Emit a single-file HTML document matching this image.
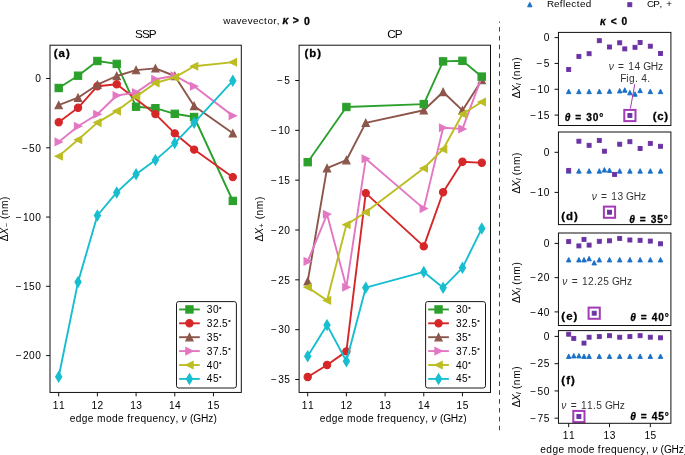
<!DOCTYPE html>
<html><head><meta charset="utf-8"><style>html,body{margin:0;padding:0;background:#fff;overflow:hidden;}svg{display:block;will-change:transform;}</style></head><body>
<svg width="685" height="455" viewBox="0 0 685 455" font-family='"Liberation Sans", sans-serif'>
<rect width="685" height="455" fill="#fff"/>
<defs>
<clipPath id="ca"><rect x="50.0" y="45.2" width="191.3" height="347.25"/></clipPath>
<clipPath id="cb"><rect x="299.1" y="45.2" width="191.39999999999998" height="347.25"/></clipPath>
</defs>
<g clip-path="url(#ca)">
<polyline points="58.7,88 78.05,75.7 97.39,61 116.74,63.9 136.08,106.7 155.42,108.2 174.77,113.8 194.11,117 232.8,200.9" fill="none" stroke="#2ca02c" stroke-width="1.9" stroke-linejoin="round" stroke-linecap="square"/>
<rect x="55.05" y="84.35" width="7.3" height="7.3" fill="#2ca02c" stroke="#2ca02c" stroke-width="1.1"/>
<rect x="74.4" y="72.05" width="7.3" height="7.3" fill="#2ca02c" stroke="#2ca02c" stroke-width="1.1"/>
<rect x="93.74" y="57.35" width="7.3" height="7.3" fill="#2ca02c" stroke="#2ca02c" stroke-width="1.1"/>
<rect x="113.09" y="60.25" width="7.3" height="7.3" fill="#2ca02c" stroke="#2ca02c" stroke-width="1.1"/>
<rect x="132.43" y="103.05" width="7.3" height="7.3" fill="#2ca02c" stroke="#2ca02c" stroke-width="1.1"/>
<rect x="151.77" y="104.55" width="7.3" height="7.3" fill="#2ca02c" stroke="#2ca02c" stroke-width="1.1"/>
<rect x="171.12" y="110.15" width="7.3" height="7.3" fill="#2ca02c" stroke="#2ca02c" stroke-width="1.1"/>
<rect x="190.46" y="113.35" width="7.3" height="7.3" fill="#2ca02c" stroke="#2ca02c" stroke-width="1.1"/>
<rect x="229.15" y="197.25" width="7.3" height="7.3" fill="#2ca02c" stroke="#2ca02c" stroke-width="1.1"/>
<polyline points="58.7,122.2 78.05,107.8 97.39,86.2 116.74,84.3 155.42,114.1 174.77,133.4 194.11,149.6 232.8,177.1" fill="none" stroke="#d62728" stroke-width="1.9" stroke-linejoin="round" stroke-linecap="square"/>
<circle cx="58.7" cy="122.2" r="3.65" fill="#d62728" stroke="#d62728" stroke-width="1.1"/>
<circle cx="78.05" cy="107.8" r="3.65" fill="#d62728" stroke="#d62728" stroke-width="1.1"/>
<circle cx="97.39" cy="86.2" r="3.65" fill="#d62728" stroke="#d62728" stroke-width="1.1"/>
<circle cx="116.74" cy="84.3" r="3.65" fill="#d62728" stroke="#d62728" stroke-width="1.1"/>
<circle cx="155.42" cy="114.1" r="3.65" fill="#d62728" stroke="#d62728" stroke-width="1.1"/>
<circle cx="174.77" cy="133.4" r="3.65" fill="#d62728" stroke="#d62728" stroke-width="1.1"/>
<circle cx="194.11" cy="149.6" r="3.65" fill="#d62728" stroke="#d62728" stroke-width="1.1"/>
<circle cx="232.8" cy="177.1" r="3.65" fill="#d62728" stroke="#d62728" stroke-width="1.1"/>
<polyline points="58.7,105.1 78.05,97.7 97.39,84.7 116.74,76 136.08,70.1 155.42,68.4 174.77,76 194.11,106 232.8,133.3" fill="none" stroke="#8c564b" stroke-width="1.9" stroke-linejoin="round" stroke-linecap="square"/>
<polygon points="58.7,101.45 55.05,108.75 62.35,108.75" fill="#8c564b" stroke="#8c564b" stroke-width="1.1" stroke-linejoin="miter"/>
<polygon points="78.05,94.05 74.4,101.35 81.7,101.35" fill="#8c564b" stroke="#8c564b" stroke-width="1.1" stroke-linejoin="miter"/>
<polygon points="97.39,81.05 93.74,88.35 101.04,88.35" fill="#8c564b" stroke="#8c564b" stroke-width="1.1" stroke-linejoin="miter"/>
<polygon points="116.74,72.35 113.09,79.65 120.39,79.65" fill="#8c564b" stroke="#8c564b" stroke-width="1.1" stroke-linejoin="miter"/>
<polygon points="136.08,66.45 132.43,73.75 139.73,73.75" fill="#8c564b" stroke="#8c564b" stroke-width="1.1" stroke-linejoin="miter"/>
<polygon points="155.42,64.75 151.77,72.05 159.07,72.05" fill="#8c564b" stroke="#8c564b" stroke-width="1.1" stroke-linejoin="miter"/>
<polygon points="174.77,72.35 171.12,79.65 178.42,79.65" fill="#8c564b" stroke="#8c564b" stroke-width="1.1" stroke-linejoin="miter"/>
<polygon points="194.11,102.35 190.46,109.65 197.76,109.65" fill="#8c564b" stroke="#8c564b" stroke-width="1.1" stroke-linejoin="miter"/>
<polygon points="232.8,129.65 229.15,136.95 236.45,136.95" fill="#8c564b" stroke="#8c564b" stroke-width="1.1" stroke-linejoin="miter"/>
<polyline points="58.7,141.9 78.05,126.3 97.39,114.3 116.74,95.5 136.08,92.6 155.42,79.3 174.77,75.7 194.11,86.3 232.8,115.8" fill="none" stroke="#e377c2" stroke-width="1.9" stroke-linejoin="round" stroke-linecap="square"/>
<polygon points="62.35,141.9 55.05,138.25 55.05,145.55" fill="#e377c2" stroke="#e377c2" stroke-width="1.1" stroke-linejoin="miter"/>
<polygon points="81.7,126.3 74.4,122.65 74.4,129.95" fill="#e377c2" stroke="#e377c2" stroke-width="1.1" stroke-linejoin="miter"/>
<polygon points="101.04,114.3 93.74,110.65 93.74,117.95" fill="#e377c2" stroke="#e377c2" stroke-width="1.1" stroke-linejoin="miter"/>
<polygon points="120.39,95.5 113.09,91.85 113.09,99.15" fill="#e377c2" stroke="#e377c2" stroke-width="1.1" stroke-linejoin="miter"/>
<polygon points="139.73,92.6 132.43,88.95 132.43,96.25" fill="#e377c2" stroke="#e377c2" stroke-width="1.1" stroke-linejoin="miter"/>
<polygon points="159.07,79.3 151.77,75.65 151.77,82.95" fill="#e377c2" stroke="#e377c2" stroke-width="1.1" stroke-linejoin="miter"/>
<polygon points="178.42,75.7 171.12,72.05 171.12,79.35" fill="#e377c2" stroke="#e377c2" stroke-width="1.1" stroke-linejoin="miter"/>
<polygon points="197.76,86.3 190.46,82.65 190.46,89.95" fill="#e377c2" stroke="#e377c2" stroke-width="1.1" stroke-linejoin="miter"/>
<polygon points="236.45,115.8 229.15,112.15 229.15,119.45" fill="#e377c2" stroke="#e377c2" stroke-width="1.1" stroke-linejoin="miter"/>
<polyline points="58.7,156.2 78.05,139.7 97.39,122.6 116.74,111.1 136.08,96.6 155.42,83 174.77,77.4 194.11,66.2 232.8,62.2" fill="none" stroke="#bcbd22" stroke-width="1.9" stroke-linejoin="round" stroke-linecap="square"/>
<polygon points="55.05,156.2 62.35,152.55 62.35,159.85" fill="#bcbd22" stroke="#bcbd22" stroke-width="1.1" stroke-linejoin="miter"/>
<polygon points="74.4,139.7 81.7,136.05 81.7,143.35" fill="#bcbd22" stroke="#bcbd22" stroke-width="1.1" stroke-linejoin="miter"/>
<polygon points="93.74,122.6 101.04,118.95 101.04,126.25" fill="#bcbd22" stroke="#bcbd22" stroke-width="1.1" stroke-linejoin="miter"/>
<polygon points="113.09,111.1 120.39,107.45 120.39,114.75" fill="#bcbd22" stroke="#bcbd22" stroke-width="1.1" stroke-linejoin="miter"/>
<polygon points="132.43,96.6 139.73,92.95 139.73,100.25" fill="#bcbd22" stroke="#bcbd22" stroke-width="1.1" stroke-linejoin="miter"/>
<polygon points="151.77,83 159.07,79.35 159.07,86.65" fill="#bcbd22" stroke="#bcbd22" stroke-width="1.1" stroke-linejoin="miter"/>
<polygon points="171.12,77.4 178.42,73.75 178.42,81.05" fill="#bcbd22" stroke="#bcbd22" stroke-width="1.1" stroke-linejoin="miter"/>
<polygon points="190.46,66.2 197.76,62.55 197.76,69.85" fill="#bcbd22" stroke="#bcbd22" stroke-width="1.1" stroke-linejoin="miter"/>
<polygon points="229.15,62.2 236.45,58.55 236.45,65.85" fill="#bcbd22" stroke="#bcbd22" stroke-width="1.1" stroke-linejoin="miter"/>
<polyline points="58.7,376.8 78.05,281.9 97.39,215.5 116.74,192.4 136.08,174.2 155.42,160.1 174.77,143.1 194.11,122.8 232.8,80.8" fill="none" stroke="#17becf" stroke-width="1.9" stroke-linejoin="round" stroke-linecap="square"/>
<polygon points="58.7,371.64 61.8,376.8 58.7,381.96 55.61,376.8" fill="#17becf" stroke="#17becf" stroke-width="1.1" stroke-linejoin="miter"/>
<polygon points="78.05,276.74 81.15,281.9 78.05,287.06 74.95,281.9" fill="#17becf" stroke="#17becf" stroke-width="1.1" stroke-linejoin="miter"/>
<polygon points="97.39,210.34 100.49,215.5 97.39,220.66 94.29,215.5" fill="#17becf" stroke="#17becf" stroke-width="1.1" stroke-linejoin="miter"/>
<polygon points="116.74,187.24 119.83,192.4 116.74,197.56 113.64,192.4" fill="#17becf" stroke="#17becf" stroke-width="1.1" stroke-linejoin="miter"/>
<polygon points="136.08,169.04 139.18,174.2 136.08,179.36 132.98,174.2" fill="#17becf" stroke="#17becf" stroke-width="1.1" stroke-linejoin="miter"/>
<polygon points="155.42,154.94 158.52,160.1 155.42,165.26 152.32,160.1" fill="#17becf" stroke="#17becf" stroke-width="1.1" stroke-linejoin="miter"/>
<polygon points="174.77,137.94 177.86,143.1 174.77,148.26 171.67,143.1" fill="#17becf" stroke="#17becf" stroke-width="1.1" stroke-linejoin="miter"/>
<polygon points="194.11,117.64 197.21,122.8 194.11,127.96 191.01,122.8" fill="#17becf" stroke="#17becf" stroke-width="1.1" stroke-linejoin="miter"/>
<polygon points="232.8,75.64 235.89,80.8 232.8,85.96 229.7,80.8" fill="#17becf" stroke="#17becf" stroke-width="1.1" stroke-linejoin="miter"/>
</g>
<rect x="50" y="45.2" width="191.3" height="347.25" fill="none" stroke="#111" stroke-width="1.0"/>
<line x1="46.1" y1="78.5" x2="50" y2="78.5" stroke="#111" stroke-width="1.0"/>
<text font-size="10.18"><tspan x="35.22" y="82.25">0</tspan></text>
<line x1="46.1" y1="147.8" x2="50" y2="147.8" stroke="#111" stroke-width="1.0"/>
<text font-size="10.18"><tspan x="21.89 29.11 35.22" y="151.55">−50</tspan></text>
<line x1="46.1" y1="217.05" x2="50" y2="217.05" stroke="#111" stroke-width="1.0"/>
<text font-size="10.18"><tspan x="15.78 23 29.11 35.22" y="220.8">−100</tspan></text>
<line x1="46.1" y1="286.3" x2="50" y2="286.3" stroke="#111" stroke-width="1.0"/>
<text font-size="10.18"><tspan x="15.78 23 29.11 35.22" y="290.05">−150</tspan></text>
<line x1="46.1" y1="355.6" x2="50" y2="355.6" stroke="#111" stroke-width="1.0"/>
<text font-size="10.18"><tspan x="15.78 23 29.11 35.22" y="359.35">−200</tspan></text>
<line x1="58.7" y1="392.45" x2="58.7" y2="396.35" stroke="#111" stroke-width="1.0"/>
<text font-size="10.18"><tspan x="52.82 58.93" y="408.6">11</tspan></text>
<line x1="97.39" y1="392.45" x2="97.39" y2="396.35" stroke="#111" stroke-width="1.0"/>
<text font-size="10.18"><tspan x="91.51 97.62" y="408.6">12</tspan></text>
<line x1="136.08" y1="392.45" x2="136.08" y2="396.35" stroke="#111" stroke-width="1.0"/>
<text font-size="10.18"><tspan x="130.19 136.3" y="408.6">13</tspan></text>
<line x1="174.77" y1="392.45" x2="174.77" y2="396.35" stroke="#111" stroke-width="1.0"/>
<text font-size="10.18"><tspan x="168.88 174.99" y="408.6">14</tspan></text>
<line x1="213.45" y1="392.45" x2="213.45" y2="396.35" stroke="#111" stroke-width="1.0"/>
<text font-size="10.18"><tspan x="207.57 213.68" y="408.6">15</tspan></text>
<text font-size="11.45"><tspan font-weight="bold" stroke="#000" stroke-width="0.28" x="53.76 58.6 65.99" y="57">(a)</tspan></text>
<text font-size="11.77"><tspan x="134.96 142 148.87" y="38.3">SSP</tspan></text>
<text font-size="10.18"><tspan x="69.73 75.73 81.82 87.82 93.72 97.09 106.11 112.1 118.1 123.99 127.21 130.59 134.38 140.38 146.47 152.47 158.46 164.43 169.91 175.4 178.46" y="422">edge mode frequency, </tspan><tspan font-style="italic" x="181.53" y="422">ν</tspan><tspan x="186.87 189.99 193.32 200.93 208.19 213.43" y="422"> (GHz)</tspan></text>
<text transform="translate(7.9,218.7) rotate(-90)" font-size="10.18"><tspan x="-22.49" y="0">Δ</tspan><tspan font-style="italic" x="-15.91" y="0">X</tspan><tspan font-size="7.12" x="-8.5" y="1.25">−</tspan><tspan x="-3.49 -0.37 3.41 9.72 18.81" y="0"> (nm)</tspan></text>
<rect x="176.5" y="301.6" width="59.9" height="86.4" rx="2.2" ry="2.2" fill="#fff" stroke="#1a1a1a" stroke-width="1"/>
<line x1="179.1" y1="309.45" x2="199.8" y2="309.45" stroke="#2ca02c" stroke-width="1.9"/>
<rect x="185.8" y="305.8" width="7.3" height="7.3" fill="#2ca02c" stroke="#2ca02c" stroke-width="1.1"/>
<text font-size="10.18"><tspan x="206.82 212.93" y="312.95">30</tspan><tspan font-weight="bold" stroke="#000" stroke-width="0.28" font-size="6.11" x="219.03" y="310.55">°</tspan></text>
<line x1="179.1" y1="323.3" x2="199.8" y2="323.3" stroke="#d62728" stroke-width="1.9"/>
<circle cx="189.45" cy="323.3" r="3.65" fill="#d62728" stroke="#d62728" stroke-width="1.1"/>
<text font-size="10.18"><tspan x="206.82 212.93 218.93 222.09" y="326.8">32.5</tspan><tspan font-weight="bold" stroke="#000" stroke-width="0.28" font-size="6.11" x="228.19" y="324.4">°</tspan></text>
<line x1="179.1" y1="337.2" x2="199.8" y2="337.2" stroke="#8c564b" stroke-width="1.9"/>
<polygon points="189.45,333.55 185.8,340.85 193.1,340.85" fill="#8c564b" stroke="#8c564b" stroke-width="1.1" stroke-linejoin="miter"/>
<text font-size="10.18"><tspan x="206.82 212.93" y="340.7">35</tspan><tspan font-weight="bold" stroke="#000" stroke-width="0.28" font-size="6.11" x="219.03" y="338.3">°</tspan></text>
<line x1="179.1" y1="351.1" x2="199.8" y2="351.1" stroke="#e377c2" stroke-width="1.9"/>
<polygon points="193.1,351.1 185.8,347.45 185.8,354.75" fill="#e377c2" stroke="#e377c2" stroke-width="1.1" stroke-linejoin="miter"/>
<text font-size="10.18"><tspan x="206.82 212.93 218.93 222.09" y="354.6">37.5</tspan><tspan font-weight="bold" stroke="#000" stroke-width="0.28" font-size="6.11" x="228.19" y="352.2">°</tspan></text>
<line x1="179.1" y1="365" x2="199.8" y2="365" stroke="#bcbd22" stroke-width="1.9"/>
<polygon points="185.8,365 193.1,361.35 193.1,368.65" fill="#bcbd22" stroke="#bcbd22" stroke-width="1.1" stroke-linejoin="miter"/>
<text font-size="10.18"><tspan x="206.82 212.93" y="368.5">40</tspan><tspan font-weight="bold" stroke="#000" stroke-width="0.28" font-size="6.11" x="219.03" y="366.1">°</tspan></text>
<line x1="179.1" y1="378.9" x2="199.8" y2="378.9" stroke="#17becf" stroke-width="1.9"/>
<polygon points="189.45,373.74 192.55,378.9 189.45,384.06 186.35,378.9" fill="#17becf" stroke="#17becf" stroke-width="1.1" stroke-linejoin="miter"/>
<text font-size="10.18"><tspan x="206.82 212.93" y="382.4">45</tspan><tspan font-weight="bold" stroke="#000" stroke-width="0.28" font-size="6.11" x="219.03" y="380">°</tspan></text>
<g clip-path="url(#cb)">
<polyline points="307.7,377 327.05,365 346.39,351.4 365.74,193.1 423.77,246.4 443.11,192.3 462.45,161.7 481.8,162.8" fill="none" stroke="#d62728" stroke-width="1.9" stroke-linejoin="round" stroke-linecap="square"/>
<circle cx="307.7" cy="377" r="3.65" fill="#d62728" stroke="#d62728" stroke-width="1.1"/>
<circle cx="327.05" cy="365" r="3.65" fill="#d62728" stroke="#d62728" stroke-width="1.1"/>
<circle cx="346.39" cy="351.4" r="3.65" fill="#d62728" stroke="#d62728" stroke-width="1.1"/>
<circle cx="365.74" cy="193.1" r="3.65" fill="#d62728" stroke="#d62728" stroke-width="1.1"/>
<circle cx="423.77" cy="246.4" r="3.65" fill="#d62728" stroke="#d62728" stroke-width="1.1"/>
<circle cx="443.11" cy="192.3" r="3.65" fill="#d62728" stroke="#d62728" stroke-width="1.1"/>
<circle cx="462.45" cy="161.7" r="3.65" fill="#d62728" stroke="#d62728" stroke-width="1.1"/>
<circle cx="481.8" cy="162.8" r="3.65" fill="#d62728" stroke="#d62728" stroke-width="1.1"/>
<polyline points="307.7,281.4 327.05,168.2 346.39,160.2 365.74,122.9 423.77,110.3 443.11,92 462.45,110.4 481.8,80" fill="none" stroke="#8c564b" stroke-width="1.9" stroke-linejoin="round" stroke-linecap="square"/>
<polygon points="307.7,277.75 304.05,285.05 311.35,285.05" fill="#8c564b" stroke="#8c564b" stroke-width="1.1" stroke-linejoin="miter"/>
<polygon points="327.05,164.55 323.4,171.85 330.7,171.85" fill="#8c564b" stroke="#8c564b" stroke-width="1.1" stroke-linejoin="miter"/>
<polygon points="346.39,156.55 342.74,163.85 350.04,163.85" fill="#8c564b" stroke="#8c564b" stroke-width="1.1" stroke-linejoin="miter"/>
<polygon points="365.74,119.25 362.09,126.55 369.39,126.55" fill="#8c564b" stroke="#8c564b" stroke-width="1.1" stroke-linejoin="miter"/>
<polygon points="423.77,106.65 420.12,113.95 427.42,113.95" fill="#8c564b" stroke="#8c564b" stroke-width="1.1" stroke-linejoin="miter"/>
<polygon points="443.11,88.35 439.46,95.65 446.76,95.65" fill="#8c564b" stroke="#8c564b" stroke-width="1.1" stroke-linejoin="miter"/>
<polygon points="462.45,106.75 458.8,114.05 466.1,114.05" fill="#8c564b" stroke="#8c564b" stroke-width="1.1" stroke-linejoin="miter"/>
<polygon points="481.8,76.35 478.15,83.65 485.45,83.65" fill="#8c564b" stroke="#8c564b" stroke-width="1.1" stroke-linejoin="miter"/>
<polyline points="307.7,261.4 327.05,214.3 346.39,287.2 365.74,158.8 423.77,208.6 443.11,127.8 462.45,128.9 481.8,77" fill="none" stroke="#e377c2" stroke-width="1.9" stroke-linejoin="round" stroke-linecap="square"/>
<polygon points="311.35,261.4 304.05,257.75 304.05,265.05" fill="#e377c2" stroke="#e377c2" stroke-width="1.1" stroke-linejoin="miter"/>
<polygon points="330.7,214.3 323.4,210.65 323.4,217.95" fill="#e377c2" stroke="#e377c2" stroke-width="1.1" stroke-linejoin="miter"/>
<polygon points="350.04,287.2 342.74,283.55 342.74,290.85" fill="#e377c2" stroke="#e377c2" stroke-width="1.1" stroke-linejoin="miter"/>
<polygon points="369.39,158.8 362.09,155.15 362.09,162.45" fill="#e377c2" stroke="#e377c2" stroke-width="1.1" stroke-linejoin="miter"/>
<polygon points="427.42,208.6 420.12,204.95 420.12,212.25" fill="#e377c2" stroke="#e377c2" stroke-width="1.1" stroke-linejoin="miter"/>
<polygon points="446.76,127.8 439.46,124.15 439.46,131.45" fill="#e377c2" stroke="#e377c2" stroke-width="1.1" stroke-linejoin="miter"/>
<polygon points="466.1,128.9 458.8,125.25 458.8,132.55" fill="#e377c2" stroke="#e377c2" stroke-width="1.1" stroke-linejoin="miter"/>
<polygon points="485.45,77 478.15,73.35 478.15,80.65" fill="#e377c2" stroke="#e377c2" stroke-width="1.1" stroke-linejoin="miter"/>
<polyline points="307.7,287.2 327.05,300.4 346.39,224.8 365.74,212.2 423.77,168.2 443.11,149.3 462.45,114 481.8,102" fill="none" stroke="#bcbd22" stroke-width="1.9" stroke-linejoin="round" stroke-linecap="square"/>
<polygon points="304.05,287.2 311.35,283.55 311.35,290.85" fill="#bcbd22" stroke="#bcbd22" stroke-width="1.1" stroke-linejoin="miter"/>
<polygon points="323.4,300.4 330.7,296.75 330.7,304.05" fill="#bcbd22" stroke="#bcbd22" stroke-width="1.1" stroke-linejoin="miter"/>
<polygon points="342.74,224.8 350.04,221.15 350.04,228.45" fill="#bcbd22" stroke="#bcbd22" stroke-width="1.1" stroke-linejoin="miter"/>
<polygon points="362.09,212.2 369.39,208.55 369.39,215.85" fill="#bcbd22" stroke="#bcbd22" stroke-width="1.1" stroke-linejoin="miter"/>
<polygon points="420.12,168.2 427.42,164.55 427.42,171.85" fill="#bcbd22" stroke="#bcbd22" stroke-width="1.1" stroke-linejoin="miter"/>
<polygon points="439.46,149.3 446.76,145.65 446.76,152.95" fill="#bcbd22" stroke="#bcbd22" stroke-width="1.1" stroke-linejoin="miter"/>
<polygon points="458.8,114 466.1,110.35 466.1,117.65" fill="#bcbd22" stroke="#bcbd22" stroke-width="1.1" stroke-linejoin="miter"/>
<polygon points="478.15,102 485.45,98.35 485.45,105.65" fill="#bcbd22" stroke="#bcbd22" stroke-width="1.1" stroke-linejoin="miter"/>
<polyline points="307.7,356.2 327.05,325.1 346.39,361.3 365.74,287.7 423.77,271.9 443.11,287.7 462.45,267.8 481.8,228.5" fill="none" stroke="#17becf" stroke-width="1.9" stroke-linejoin="round" stroke-linecap="square"/>
<polygon points="307.7,351.04 310.8,356.2 307.7,361.36 304.61,356.2" fill="#17becf" stroke="#17becf" stroke-width="1.1" stroke-linejoin="miter"/>
<polygon points="327.05,319.94 330.15,325.1 327.05,330.26 323.95,325.1" fill="#17becf" stroke="#17becf" stroke-width="1.1" stroke-linejoin="miter"/>
<polygon points="346.39,356.14 349.49,361.3 346.39,366.46 343.29,361.3" fill="#17becf" stroke="#17becf" stroke-width="1.1" stroke-linejoin="miter"/>
<polygon points="365.74,282.54 368.83,287.7 365.74,292.86 362.64,287.7" fill="#17becf" stroke="#17becf" stroke-width="1.1" stroke-linejoin="miter"/>
<polygon points="423.77,266.74 426.86,271.9 423.77,277.06 420.67,271.9" fill="#17becf" stroke="#17becf" stroke-width="1.1" stroke-linejoin="miter"/>
<polygon points="443.11,282.54 446.21,287.7 443.11,292.86 440.01,287.7" fill="#17becf" stroke="#17becf" stroke-width="1.1" stroke-linejoin="miter"/>
<polygon points="462.45,262.64 465.55,267.8 462.45,272.96 459.36,267.8" fill="#17becf" stroke="#17becf" stroke-width="1.1" stroke-linejoin="miter"/>
<polygon points="481.8,223.34 484.89,228.5 481.8,233.66 478.7,228.5" fill="#17becf" stroke="#17becf" stroke-width="1.1" stroke-linejoin="miter"/>
<polyline points="307.7,162.2 346.39,107 423.77,104.1 443.11,61.4 462.45,60.8 481.8,76.6" fill="none" stroke="#2ca02c" stroke-width="1.9" stroke-linejoin="round" stroke-linecap="square"/>
<rect x="304.05" y="158.55" width="7.3" height="7.3" fill="#2ca02c" stroke="#2ca02c" stroke-width="1.1"/>
<rect x="342.74" y="103.35" width="7.3" height="7.3" fill="#2ca02c" stroke="#2ca02c" stroke-width="1.1"/>
<rect x="420.12" y="100.45" width="7.3" height="7.3" fill="#2ca02c" stroke="#2ca02c" stroke-width="1.1"/>
<rect x="439.46" y="57.75" width="7.3" height="7.3" fill="#2ca02c" stroke="#2ca02c" stroke-width="1.1"/>
<rect x="458.8" y="57.15" width="7.3" height="7.3" fill="#2ca02c" stroke="#2ca02c" stroke-width="1.1"/>
<rect x="478.15" y="72.95" width="7.3" height="7.3" fill="#2ca02c" stroke="#2ca02c" stroke-width="1.1"/>
</g>
<rect x="299.1" y="45.2" width="191.4" height="347.25" fill="none" stroke="#111" stroke-width="1.0"/>
<line x1="295.2" y1="80.5" x2="299.1" y2="80.5" stroke="#111" stroke-width="1.0"/>
<text font-size="10.18"><tspan x="277.1 284.32" y="84.25">−5</tspan></text>
<line x1="295.2" y1="130.34" x2="299.1" y2="130.34" stroke="#111" stroke-width="1.0"/>
<text font-size="10.18"><tspan x="270.99 278.21 284.32" y="134.09">−10</tspan></text>
<line x1="295.2" y1="180.17" x2="299.1" y2="180.17" stroke="#111" stroke-width="1.0"/>
<text font-size="10.18"><tspan x="270.99 278.21 284.32" y="183.92">−15</tspan></text>
<line x1="295.2" y1="230" x2="299.1" y2="230" stroke="#111" stroke-width="1.0"/>
<text font-size="10.18"><tspan x="270.99 278.21 284.32" y="233.75">−20</tspan></text>
<line x1="295.2" y1="279.84" x2="299.1" y2="279.84" stroke="#111" stroke-width="1.0"/>
<text font-size="10.18"><tspan x="270.99 278.21 284.32" y="283.59">−25</tspan></text>
<line x1="295.2" y1="329.68" x2="299.1" y2="329.68" stroke="#111" stroke-width="1.0"/>
<text font-size="10.18"><tspan x="270.99 278.21 284.32" y="333.43">−30</tspan></text>
<line x1="295.2" y1="379.51" x2="299.1" y2="379.51" stroke="#111" stroke-width="1.0"/>
<text font-size="10.18"><tspan x="270.99 278.21 284.32" y="383.26">−35</tspan></text>
<line x1="307.7" y1="392.45" x2="307.7" y2="396.35" stroke="#111" stroke-width="1.0"/>
<text font-size="10.18"><tspan x="301.82 307.93" y="408.6">11</tspan></text>
<line x1="346.39" y1="392.45" x2="346.39" y2="396.35" stroke="#111" stroke-width="1.0"/>
<text font-size="10.18"><tspan x="340.51 346.62" y="408.6">12</tspan></text>
<line x1="385.08" y1="392.45" x2="385.08" y2="396.35" stroke="#111" stroke-width="1.0"/>
<text font-size="10.18"><tspan x="379.19 385.3" y="408.6">13</tspan></text>
<line x1="423.77" y1="392.45" x2="423.77" y2="396.35" stroke="#111" stroke-width="1.0"/>
<text font-size="10.18"><tspan x="417.88 423.99" y="408.6">14</tspan></text>
<line x1="462.45" y1="392.45" x2="462.45" y2="396.35" stroke="#111" stroke-width="1.0"/>
<text font-size="10.18"><tspan x="456.57 462.68" y="408.6">15</tspan></text>
<text font-size="11.45"><tspan font-weight="bold" stroke="#000" stroke-width="0.28" x="304.56 309.3 317.23" y="57">(b)</tspan></text>
<text font-size="11.77"><tspan x="387.15 394.7" y="38.3">CP</tspan></text>
<text font-size="10.18"><tspan x="319.63 325.63 331.72 337.72 343.62 346.99 356.01 362 368 373.89 377.11 380.49 384.28 390.28 396.37 402.37 408.36 414.33 419.81 425.3 428.36" y="422">edge mode frequency, </tspan><tspan font-style="italic" x="431.43" y="422">ν</tspan><tspan x="436.77 439.89 443.22 450.83 458.09 463.33" y="422"> (GHz)</tspan></text>
<text transform="translate(263.2,218.9) rotate(-90)" font-size="10.18"><tspan x="-22.49" y="0">Δ</tspan><tspan font-style="italic" x="-15.91" y="0">X</tspan><tspan font-size="7.12" x="-8.5" y="1.25">+</tspan><tspan x="-3.49 -0.37 3.41 9.72 18.81" y="0"> (nm)</tspan></text>
<rect x="425.6" y="301.6" width="59.9" height="86.4" rx="2.2" ry="2.2" fill="#fff" stroke="#1a1a1a" stroke-width="1"/>
<line x1="428.2" y1="309.45" x2="448.9" y2="309.45" stroke="#2ca02c" stroke-width="1.9"/>
<rect x="434.9" y="305.8" width="7.3" height="7.3" fill="#2ca02c" stroke="#2ca02c" stroke-width="1.1"/>
<text font-size="10.18"><tspan x="455.92 462.03" y="312.95">30</tspan><tspan font-weight="bold" stroke="#000" stroke-width="0.28" font-size="6.11" x="468.13" y="310.55">°</tspan></text>
<line x1="428.2" y1="323.3" x2="448.9" y2="323.3" stroke="#d62728" stroke-width="1.9"/>
<circle cx="438.55" cy="323.3" r="3.65" fill="#d62728" stroke="#d62728" stroke-width="1.1"/>
<text font-size="10.18"><tspan x="455.92 462.03 468.03 471.19" y="326.8">32.5</tspan><tspan font-weight="bold" stroke="#000" stroke-width="0.28" font-size="6.11" x="477.29" y="324.4">°</tspan></text>
<line x1="428.2" y1="337.2" x2="448.9" y2="337.2" stroke="#8c564b" stroke-width="1.9"/>
<polygon points="438.55,333.55 434.9,340.85 442.2,340.85" fill="#8c564b" stroke="#8c564b" stroke-width="1.1" stroke-linejoin="miter"/>
<text font-size="10.18"><tspan x="455.92 462.03" y="340.7">35</tspan><tspan font-weight="bold" stroke="#000" stroke-width="0.28" font-size="6.11" x="468.13" y="338.3">°</tspan></text>
<line x1="428.2" y1="351.1" x2="448.9" y2="351.1" stroke="#e377c2" stroke-width="1.9"/>
<polygon points="442.2,351.1 434.9,347.45 434.9,354.75" fill="#e377c2" stroke="#e377c2" stroke-width="1.1" stroke-linejoin="miter"/>
<text font-size="10.18"><tspan x="455.92 462.03 468.03 471.19" y="354.6">37.5</tspan><tspan font-weight="bold" stroke="#000" stroke-width="0.28" font-size="6.11" x="477.29" y="352.2">°</tspan></text>
<line x1="428.2" y1="365" x2="448.9" y2="365" stroke="#bcbd22" stroke-width="1.9"/>
<polygon points="434.9,365 442.2,361.35 442.2,368.65" fill="#bcbd22" stroke="#bcbd22" stroke-width="1.1" stroke-linejoin="miter"/>
<text font-size="10.18"><tspan x="455.92 462.03" y="368.5">40</tspan><tspan font-weight="bold" stroke="#000" stroke-width="0.28" font-size="6.11" x="468.13" y="366.1">°</tspan></text>
<line x1="428.2" y1="378.9" x2="448.9" y2="378.9" stroke="#17becf" stroke-width="1.9"/>
<polygon points="438.55,373.74 441.65,378.9 438.55,384.06 435.45,378.9" fill="#17becf" stroke="#17becf" stroke-width="1.1" stroke-linejoin="miter"/>
<text font-size="10.18"><tspan x="455.92 462.03" y="382.4">45</tspan><tspan font-weight="bold" stroke="#000" stroke-width="0.28" font-size="6.11" x="468.13" y="380">°</tspan></text>
<text font-size="9.8"><tspan x="223.24 230.67 236.52 241.83 247.68 252.99 258.66 264.1 267.38 273.2 276.85" y="24.4">wavevector,</tspan></text>
<text font-size="10.49"><tspan font-weight="bold" stroke="#000" stroke-width="0.28" font-style="italic" x="282.48" y="24.4">κ</tspan></text>
<text font-size="10.49"><tspan font-weight="bold" stroke="#000" stroke-width="0.28" x="292.64" y="24.4">&gt;</tspan></text>
<text font-size="10.49"><tspan font-weight="bold" stroke="#000" stroke-width="0.28" x="304.08" y="24.5">0</tspan></text>
<text font-size="10.18"><tspan font-weight="bold" stroke="#000" stroke-width="0.28" font-style="italic" x="600.02" y="24.5">κ</tspan><tspan font-weight="bold" stroke="#000" stroke-width="0.28" x="606.56 610.7 617.95 621.54" y="24.5"> &lt; 0</tspan></text>
<line x1="499.5" y1="430.3" x2="499.5" y2="21.6" stroke="#444" stroke-width="1" stroke-dasharray="4.6 4.26"/>
<polygon points="529.8,2.35 527.55,6.85 532.05,6.85" fill="#1a6fc6" stroke="#1a6fc6" stroke-width="0.9" stroke-linejoin="miter"/>
<text font-size="9.86"><tspan x="547.07 553.98 559.85 563.05 565.56 571.26 576.73 580.04 585.85" y="7.4">Reflected</tspan></text>
<rect x="627.8" y="2.7" width="4" height="4" fill="#6b32a3" stroke="#6b32a3" stroke-width="0.9"/>
<text font-size="9.86"><tspan x="646.89 653.21 659.41 662.37 666.23" y="7.4">CP, +</tspan></text>
<polygon points="568.7,89.15 566.45,93.65 570.95,93.65" fill="#1a6fc6" stroke="#1a6fc6" stroke-width="0.9" stroke-linejoin="miter"/>
<polygon points="578.9,89.15 576.65,93.65 581.15,93.65" fill="#1a6fc6" stroke="#1a6fc6" stroke-width="0.9" stroke-linejoin="miter"/>
<polygon points="589.1,89.15 586.85,93.65 591.35,93.65" fill="#1a6fc6" stroke="#1a6fc6" stroke-width="0.9" stroke-linejoin="miter"/>
<polygon points="599.3,89.15 597.05,93.65 601.55,93.65" fill="#1a6fc6" stroke="#1a6fc6" stroke-width="0.9" stroke-linejoin="miter"/>
<polygon points="609.5,88.85 607.25,93.35 611.75,93.35" fill="#1a6fc6" stroke="#1a6fc6" stroke-width="0.9" stroke-linejoin="miter"/>
<polygon points="619.7,88.45 617.45,92.95 621.95,92.95" fill="#1a6fc6" stroke="#1a6fc6" stroke-width="0.9" stroke-linejoin="miter"/>
<polygon points="624.8,87.75 622.55,92.25 627.05,92.25" fill="#1a6fc6" stroke="#1a6fc6" stroke-width="0.9" stroke-linejoin="miter"/>
<polygon points="629.9,90.35 627.65,94.85 632.15,94.85" fill="#1a6fc6" stroke="#1a6fc6" stroke-width="0.9" stroke-linejoin="miter"/>
<polygon points="635,91.75 632.75,96.25 637.25,96.25" fill="#1a6fc6" stroke="#1a6fc6" stroke-width="0.9" stroke-linejoin="miter"/>
<polygon points="640.1,88.15 637.85,92.65 642.35,92.65" fill="#1a6fc6" stroke="#1a6fc6" stroke-width="0.9" stroke-linejoin="miter"/>
<polygon points="650.3,89.15 648.05,93.65 652.55,93.65" fill="#1a6fc6" stroke="#1a6fc6" stroke-width="0.9" stroke-linejoin="miter"/>
<polygon points="660.5,89.15 658.25,93.65 662.75,93.65" fill="#1a6fc6" stroke="#1a6fc6" stroke-width="0.9" stroke-linejoin="miter"/>
<rect x="566.7" y="67.5" width="4" height="4" fill="#6b32a3" stroke="#6b32a3" stroke-width="0.9"/>
<rect x="576.9" y="54.4" width="4" height="4" fill="#6b32a3" stroke="#6b32a3" stroke-width="0.9"/>
<rect x="587.1" y="51.7" width="4" height="4" fill="#6b32a3" stroke="#6b32a3" stroke-width="0.9"/>
<rect x="597.3" y="38.7" width="4" height="4" fill="#6b32a3" stroke="#6b32a3" stroke-width="0.9"/>
<rect x="607.5" y="45" width="4" height="4" fill="#6b32a3" stroke="#6b32a3" stroke-width="0.9"/>
<rect x="617.7" y="40.8" width="4" height="4" fill="#6b32a3" stroke="#6b32a3" stroke-width="0.9"/>
<rect x="622.8" y="46.9" width="4" height="4" fill="#6b32a3" stroke="#6b32a3" stroke-width="0.9"/>
<rect x="633" y="45.3" width="4" height="4" fill="#6b32a3" stroke="#6b32a3" stroke-width="0.9"/>
<rect x="638.1" y="40.5" width="4" height="4" fill="#6b32a3" stroke="#6b32a3" stroke-width="0.9"/>
<rect x="648.3" y="44.2" width="4" height="4" fill="#6b32a3" stroke="#6b32a3" stroke-width="0.9"/>
<rect x="658.5" y="51.5" width="4" height="4" fill="#6b32a3" stroke="#6b32a3" stroke-width="0.9"/>
<rect x="627.9" y="113.5" width="4" height="4" fill="#6b32a3" stroke="#6b32a3" stroke-width="0.9"/>
<rect x="624.3" y="109.9" width="11.2" height="11.2" fill="none" stroke="#a23bb5" stroke-width="2"/>
<rect x="558.45" y="32.4" width="112.45" height="93.1" fill="none" stroke="#111" stroke-width="1.0"/>
<line x1="554.55" y1="37.6" x2="558.45" y2="37.6" stroke="#111" stroke-width="1.0"/>
<text font-size="10.18"><tspan x="543.67" y="41.35">0</tspan></text>
<line x1="554.55" y1="63.43" x2="558.45" y2="63.43" stroke="#111" stroke-width="1.0"/>
<text font-size="10.18"><tspan x="536.45 543.67" y="67.18">−5</tspan></text>
<line x1="554.55" y1="89.27" x2="558.45" y2="89.27" stroke="#111" stroke-width="1.0"/>
<text font-size="10.18"><tspan x="530.34 537.56 543.67" y="93.02">−10</tspan></text>
<line x1="554.55" y1="115.1" x2="558.45" y2="115.1" stroke="#111" stroke-width="1.0"/>
<text font-size="10.18"><tspan x="530.34 537.56 543.67" y="118.85">−15</tspan></text>
<polygon points="568.7,168.65 566.45,173.15 570.95,173.15" fill="#1a6fc6" stroke="#1a6fc6" stroke-width="0.9" stroke-linejoin="miter"/>
<polygon points="578.9,168.65 576.65,173.15 581.15,173.15" fill="#1a6fc6" stroke="#1a6fc6" stroke-width="0.9" stroke-linejoin="miter"/>
<polygon points="589.1,168.65 586.85,173.15 591.35,173.15" fill="#1a6fc6" stroke="#1a6fc6" stroke-width="0.9" stroke-linejoin="miter"/>
<polygon points="599.3,168.65 597.05,173.15 601.55,173.15" fill="#1a6fc6" stroke="#1a6fc6" stroke-width="0.9" stroke-linejoin="miter"/>
<polygon points="604.4,167.55 602.15,172.05 606.65,172.05" fill="#1a6fc6" stroke="#1a6fc6" stroke-width="0.9" stroke-linejoin="miter"/>
<polygon points="609.5,167.95 607.25,172.45 611.75,172.45" fill="#1a6fc6" stroke="#1a6fc6" stroke-width="0.9" stroke-linejoin="miter"/>
<polygon points="619.7,168.65 617.45,173.15 621.95,173.15" fill="#1a6fc6" stroke="#1a6fc6" stroke-width="0.9" stroke-linejoin="miter"/>
<polygon points="629.9,168.65 627.65,173.15 632.15,173.15" fill="#1a6fc6" stroke="#1a6fc6" stroke-width="0.9" stroke-linejoin="miter"/>
<polygon points="640.1,168.65 637.85,173.15 642.35,173.15" fill="#1a6fc6" stroke="#1a6fc6" stroke-width="0.9" stroke-linejoin="miter"/>
<polygon points="650.3,168.65 648.05,173.15 652.55,173.15" fill="#1a6fc6" stroke="#1a6fc6" stroke-width="0.9" stroke-linejoin="miter"/>
<polygon points="660.5,168.65 658.25,173.15 662.75,173.15" fill="#1a6fc6" stroke="#1a6fc6" stroke-width="0.9" stroke-linejoin="miter"/>
<rect x="566.7" y="168.4" width="4" height="4" fill="#6b32a3" stroke="#6b32a3" stroke-width="0.9"/>
<rect x="576.9" y="139.2" width="4" height="4" fill="#6b32a3" stroke="#6b32a3" stroke-width="0.9"/>
<rect x="587.1" y="143.3" width="4" height="4" fill="#6b32a3" stroke="#6b32a3" stroke-width="0.9"/>
<rect x="597.3" y="138.4" width="4" height="4" fill="#6b32a3" stroke="#6b32a3" stroke-width="0.9"/>
<rect x="602.4" y="149.2" width="4" height="4" fill="#6b32a3" stroke="#6b32a3" stroke-width="0.9"/>
<rect x="612.6" y="172.4" width="4" height="4" fill="#6b32a3" stroke="#6b32a3" stroke-width="0.9"/>
<rect x="617.7" y="142.2" width="4" height="4" fill="#6b32a3" stroke="#6b32a3" stroke-width="0.9"/>
<rect x="627.9" y="139.7" width="4" height="4" fill="#6b32a3" stroke="#6b32a3" stroke-width="0.9"/>
<rect x="638.1" y="146.5" width="4" height="4" fill="#6b32a3" stroke="#6b32a3" stroke-width="0.9"/>
<rect x="648.3" y="141.4" width="4" height="4" fill="#6b32a3" stroke="#6b32a3" stroke-width="0.9"/>
<rect x="658.5" y="144.3" width="4" height="4" fill="#6b32a3" stroke="#6b32a3" stroke-width="0.9"/>
<rect x="607.5" y="210.2" width="4" height="4" fill="#6b32a3" stroke="#6b32a3" stroke-width="0.9"/>
<rect x="603.9" y="206.6" width="11.2" height="11.2" fill="none" stroke="#a23bb5" stroke-width="2"/>
<rect x="558.45" y="132" width="112.45" height="92.6" fill="none" stroke="#111" stroke-width="1.0"/>
<line x1="554.55" y1="152.3" x2="558.45" y2="152.3" stroke="#111" stroke-width="1.0"/>
<text font-size="10.18"><tspan x="543.67" y="156.05">0</tspan></text>
<line x1="554.55" y1="192.4" x2="558.45" y2="192.4" stroke="#111" stroke-width="1.0"/>
<text font-size="10.18"><tspan x="530.34 537.56 543.67" y="196.15">−10</tspan></text>
<polygon points="568.7,257.45 566.45,261.95 570.95,261.95" fill="#1a6fc6" stroke="#1a6fc6" stroke-width="0.9" stroke-linejoin="miter"/>
<polygon points="578.9,257.45 576.65,261.95 581.15,261.95" fill="#1a6fc6" stroke="#1a6fc6" stroke-width="0.9" stroke-linejoin="miter"/>
<polygon points="584,257.45 581.75,261.95 586.25,261.95" fill="#1a6fc6" stroke="#1a6fc6" stroke-width="0.9" stroke-linejoin="miter"/>
<polygon points="589.1,256.35 586.85,260.85 591.35,260.85" fill="#1a6fc6" stroke="#1a6fc6" stroke-width="0.9" stroke-linejoin="miter"/>
<polygon points="594.2,260.45 591.95,264.95 596.45,264.95" fill="#1a6fc6" stroke="#1a6fc6" stroke-width="0.9" stroke-linejoin="miter"/>
<polygon points="599.3,257.45 597.05,261.95 601.55,261.95" fill="#1a6fc6" stroke="#1a6fc6" stroke-width="0.9" stroke-linejoin="miter"/>
<polygon points="609.5,257.45 607.25,261.95 611.75,261.95" fill="#1a6fc6" stroke="#1a6fc6" stroke-width="0.9" stroke-linejoin="miter"/>
<polygon points="619.7,257.45 617.45,261.95 621.95,261.95" fill="#1a6fc6" stroke="#1a6fc6" stroke-width="0.9" stroke-linejoin="miter"/>
<polygon points="629.9,257.45 627.65,261.95 632.15,261.95" fill="#1a6fc6" stroke="#1a6fc6" stroke-width="0.9" stroke-linejoin="miter"/>
<polygon points="640.1,257.45 637.85,261.95 642.35,261.95" fill="#1a6fc6" stroke="#1a6fc6" stroke-width="0.9" stroke-linejoin="miter"/>
<polygon points="650.3,257.45 648.05,261.95 652.55,261.95" fill="#1a6fc6" stroke="#1a6fc6" stroke-width="0.9" stroke-linejoin="miter"/>
<polygon points="660.5,257.45 658.25,261.95 662.75,261.95" fill="#1a6fc6" stroke="#1a6fc6" stroke-width="0.9" stroke-linejoin="miter"/>
<rect x="566.7" y="239.6" width="4" height="4" fill="#6b32a3" stroke="#6b32a3" stroke-width="0.9"/>
<rect x="576.9" y="243.9" width="4" height="4" fill="#6b32a3" stroke="#6b32a3" stroke-width="0.9"/>
<rect x="582" y="237.4" width="4" height="4" fill="#6b32a3" stroke="#6b32a3" stroke-width="0.9"/>
<rect x="587.1" y="243.1" width="4" height="4" fill="#6b32a3" stroke="#6b32a3" stroke-width="0.9"/>
<rect x="597.3" y="239.3" width="4" height="4" fill="#6b32a3" stroke="#6b32a3" stroke-width="0.9"/>
<rect x="607.5" y="238.8" width="4" height="4" fill="#6b32a3" stroke="#6b32a3" stroke-width="0.9"/>
<rect x="617.7" y="236.4" width="4" height="4" fill="#6b32a3" stroke="#6b32a3" stroke-width="0.9"/>
<rect x="627.9" y="238" width="4" height="4" fill="#6b32a3" stroke="#6b32a3" stroke-width="0.9"/>
<rect x="638.1" y="238.3" width="4" height="4" fill="#6b32a3" stroke="#6b32a3" stroke-width="0.9"/>
<rect x="648.3" y="239.1" width="4" height="4" fill="#6b32a3" stroke="#6b32a3" stroke-width="0.9"/>
<rect x="658.5" y="241.8" width="4" height="4" fill="#6b32a3" stroke="#6b32a3" stroke-width="0.9"/>
<rect x="592.2" y="311.2" width="4" height="4" fill="#6b32a3" stroke="#6b32a3" stroke-width="0.9"/>
<rect x="588.6" y="307.6" width="11.2" height="11.2" fill="none" stroke="#a23bb5" stroke-width="2"/>
<rect x="558.45" y="233" width="112.45" height="92.5" fill="none" stroke="#111" stroke-width="1.0"/>
<line x1="554.55" y1="243.4" x2="558.45" y2="243.4" stroke="#111" stroke-width="1.0"/>
<text font-size="10.18"><tspan x="543.67" y="247.15">0</tspan></text>
<line x1="554.55" y1="277.65" x2="558.45" y2="277.65" stroke="#111" stroke-width="1.0"/>
<text font-size="10.18"><tspan x="530.34 537.56 543.67" y="281.4">−20</tspan></text>
<line x1="554.55" y1="311.9" x2="558.45" y2="311.9" stroke="#111" stroke-width="1.0"/>
<text font-size="10.18"><tspan x="530.34 537.56 543.67" y="315.65">−40</tspan></text>
<polygon points="568.7,353.95 566.45,358.45 570.95,358.45" fill="#1a6fc6" stroke="#1a6fc6" stroke-width="0.9" stroke-linejoin="miter"/>
<polygon points="573.8,353.45 571.55,357.95 576.05,357.95" fill="#1a6fc6" stroke="#1a6fc6" stroke-width="0.9" stroke-linejoin="miter"/>
<polygon points="578.9,353.45 576.65,357.95 581.15,357.95" fill="#1a6fc6" stroke="#1a6fc6" stroke-width="0.9" stroke-linejoin="miter"/>
<polygon points="584,353.95 581.75,358.45 586.25,358.45" fill="#1a6fc6" stroke="#1a6fc6" stroke-width="0.9" stroke-linejoin="miter"/>
<polygon points="589.1,353.95 586.85,358.45 591.35,358.45" fill="#1a6fc6" stroke="#1a6fc6" stroke-width="0.9" stroke-linejoin="miter"/>
<polygon points="599.3,353.95 597.05,358.45 601.55,358.45" fill="#1a6fc6" stroke="#1a6fc6" stroke-width="0.9" stroke-linejoin="miter"/>
<polygon points="609.5,353.95 607.25,358.45 611.75,358.45" fill="#1a6fc6" stroke="#1a6fc6" stroke-width="0.9" stroke-linejoin="miter"/>
<polygon points="619.7,353.95 617.45,358.45 621.95,358.45" fill="#1a6fc6" stroke="#1a6fc6" stroke-width="0.9" stroke-linejoin="miter"/>
<polygon points="629.9,353.95 627.65,358.45 632.15,358.45" fill="#1a6fc6" stroke="#1a6fc6" stroke-width="0.9" stroke-linejoin="miter"/>
<polygon points="640.1,353.95 637.85,358.45 642.35,358.45" fill="#1a6fc6" stroke="#1a6fc6" stroke-width="0.9" stroke-linejoin="miter"/>
<polygon points="650.3,353.95 648.05,358.45 652.55,358.45" fill="#1a6fc6" stroke="#1a6fc6" stroke-width="0.9" stroke-linejoin="miter"/>
<polygon points="660.5,353.95 658.25,358.45 662.75,358.45" fill="#1a6fc6" stroke="#1a6fc6" stroke-width="0.9" stroke-linejoin="miter"/>
<rect x="566.7" y="332.2" width="4" height="4" fill="#6b32a3" stroke="#6b32a3" stroke-width="0.9"/>
<rect x="571.8" y="336.4" width="4" height="4" fill="#6b32a3" stroke="#6b32a3" stroke-width="0.9"/>
<rect x="582" y="341.1" width="4" height="4" fill="#6b32a3" stroke="#6b32a3" stroke-width="0.9"/>
<rect x="587.1" y="335.2" width="4" height="4" fill="#6b32a3" stroke="#6b32a3" stroke-width="0.9"/>
<rect x="597.3" y="334.6" width="4" height="4" fill="#6b32a3" stroke="#6b32a3" stroke-width="0.9"/>
<rect x="607.5" y="333.7" width="4" height="4" fill="#6b32a3" stroke="#6b32a3" stroke-width="0.9"/>
<rect x="617.7" y="335.2" width="4" height="4" fill="#6b32a3" stroke="#6b32a3" stroke-width="0.9"/>
<rect x="627.9" y="334.6" width="4" height="4" fill="#6b32a3" stroke="#6b32a3" stroke-width="0.9"/>
<rect x="638.1" y="333.7" width="4" height="4" fill="#6b32a3" stroke="#6b32a3" stroke-width="0.9"/>
<rect x="648.3" y="335.2" width="4" height="4" fill="#6b32a3" stroke="#6b32a3" stroke-width="0.9"/>
<rect x="658.5" y="335.8" width="4" height="4" fill="#6b32a3" stroke="#6b32a3" stroke-width="0.9"/>
<rect x="576.9" y="414.5" width="4" height="4" fill="#6b32a3" stroke="#6b32a3" stroke-width="0.9"/>
<rect x="573.3" y="410.9" width="11.2" height="11.2" fill="none" stroke="#a23bb5" stroke-width="2"/>
<rect x="558.45" y="330.6" width="112.45" height="92.7" fill="none" stroke="#111" stroke-width="1.0"/>
<line x1="554.55" y1="336.4" x2="558.45" y2="336.4" stroke="#111" stroke-width="1.0"/>
<text font-size="10.18"><tspan x="543.67" y="340.15">0</tspan></text>
<line x1="554.55" y1="363.67" x2="558.45" y2="363.67" stroke="#111" stroke-width="1.0"/>
<text font-size="10.18"><tspan x="530.34 537.56 543.67" y="367.42">−25</tspan></text>
<line x1="554.55" y1="390.93" x2="558.45" y2="390.93" stroke="#111" stroke-width="1.0"/>
<text font-size="10.18"><tspan x="530.34 537.56 543.67" y="394.68">−50</tspan></text>
<line x1="554.55" y1="418.2" x2="558.45" y2="418.2" stroke="#111" stroke-width="1.0"/>
<text font-size="10.18"><tspan x="530.34 537.56 543.67" y="421.95">−75</tspan></text>
<text font-size="10.18" fill="#333"><tspan font-style="italic" x="608.74" y="69.7">ν</tspan><tspan x="614.07 618.06 625.17 628.33 634.44 640.44 643.14 650.75 658.01" y="69.7"> = 14 GHz</tspan></text>
<text font-size="10.18" fill="#333"><tspan x="620.25 626.33 629.01 635 638.05 641.21 647.21" y="81.7">Fig. 4.</tspan></text>
<line x1="630.4" y1="108.6" x2="634.8" y2="84.2" stroke="#a23bb5" stroke-width="1"/>
<text font-size="10.18"><tspan font-weight="bold" stroke="#000" stroke-width="0.28" font-style="italic" x="564.76" y="120.9">θ</tspan><tspan font-weight="bold" stroke="#000" stroke-width="0.28" x="571.15 575.29 582.54 586.13 592.81 599.35" y="120.9"> = 30°</tspan></text>
<text font-size="11.45"><tspan font-weight="bold" stroke="#000" stroke-width="0.28" x="652.79 657.18 664.13" y="120.3">(c)</tspan></text>
<text font-size="10.18" fill="#333"><tspan font-style="italic" x="591.7" y="200.3">ν</tspan><tspan x="597.04 601.03 608.13 611.3 617.4 623.4 626.1 633.71 640.97" y="200.3"> = 13 GHz</tspan></text>
<text font-size="11.45"><tspan font-weight="bold" stroke="#000" stroke-width="0.28" x="561.36 566.1 574.03" y="219.5">(d)</tspan></text>
<text font-size="10.18"><tspan font-weight="bold" stroke="#000" stroke-width="0.28" font-style="italic" x="629.28" y="222.5">θ</tspan><tspan font-weight="bold" stroke="#000" stroke-width="0.28" x="635.67 639.81 647.06 650.65 657.33 663.87" y="222.5"> = 35°</tspan></text>
<text font-size="10.18" fill="#333"><tspan font-style="italic" x="562.34" y="285.2">ν</tspan><tspan x="567.67 571.66 578.77 581.93 588.04 594.04 597.2 603.31 609.3 612.01 619.62 626.88" y="285.2"> = 12.25 GHz</tspan></text>
<text font-size="11.45"><tspan font-weight="bold" stroke="#000" stroke-width="0.28" x="561.36 566.21 573.62" y="320">(e)</tspan></text>
<text font-size="10.18"><tspan font-weight="bold" stroke="#000" stroke-width="0.28" font-style="italic" x="630.28" y="321">θ</tspan><tspan font-weight="bold" stroke="#000" stroke-width="0.28" x="636.67 640.81 648.06 651.65 658.33 664.87" y="321"> = 40°</tspan></text>
<text font-size="11.45"><tspan font-weight="bold" stroke="#000" stroke-width="0.28" x="561.36 566.18 571" y="383.5">(f)</tspan></text>
<text font-size="10.18" fill="#333"><tspan font-style="italic" x="561.34" y="408.8">ν</tspan><tspan x="566.67 570.66 577.77 580.93 587.04 593.04 596.2 602.2 604.9 612.51 619.77" y="408.8"> = 11.5 GHz</tspan></text>
<text font-size="10.18"><tspan font-weight="bold" stroke="#000" stroke-width="0.28" font-style="italic" x="630.28" y="420">θ</tspan><tspan font-weight="bold" stroke="#000" stroke-width="0.28" x="636.67 640.81 648.06 651.65 658.33 664.87" y="420"> = 45°</tspan></text>
<line x1="568.7" y1="423.3" x2="568.7" y2="427.2" stroke="#111" stroke-width="1.0"/>
<text font-size="10.18"><tspan x="562.82 568.92" y="438.8">11</tspan></text>
<line x1="609.5" y1="423.3" x2="609.5" y2="427.2" stroke="#111" stroke-width="1.0"/>
<text font-size="10.18"><tspan x="603.62 609.72" y="438.8">13</tspan></text>
<line x1="650.3" y1="423.3" x2="650.3" y2="427.2" stroke="#111" stroke-width="1.0"/>
<text font-size="10.18"><tspan x="644.42 650.52" y="438.8">15</tspan></text>
<text font-size="10.18"><tspan x="540.33 546.33 552.42 558.42 564.32 567.69 576.72 582.7 588.7 594.59 597.81 601.19 604.98 610.98 617.07 623.07 629.06 635.03 640.51 646.01 649.06" y="452.7">edge mode frequency, </tspan><tspan font-style="italic" x="652.14" y="452.7">ν</tspan><tspan x="657.47 660.59 663.92 671.53 678.79 684.03" y="452.7"> (GHz)</tspan></text>
<text transform="translate(520.1,77.7) rotate(-90)" font-size="10.18"><tspan x="-20.61" y="0">Δ</tspan><tspan font-style="italic" x="-14.03" y="0">X</tspan><tspan font-style="italic" font-size="7.12" x="-7.21" y="1.25">l</tspan><tspan x="-5.37 -2.25 1.53 7.84 16.93" y="0"> (nm)</tspan></text>
<text transform="translate(520.1,172.9) rotate(-90)" font-size="10.18"><tspan x="-20.61" y="0">Δ</tspan><tspan font-style="italic" x="-14.03" y="0">X</tspan><tspan font-style="italic" font-size="7.12" x="-7.21" y="1.25">l</tspan><tspan x="-5.37 -2.25 1.53 7.84 16.93" y="0"> (nm)</tspan></text>
<text transform="translate(520.1,282.5) rotate(-90)" font-size="10.18"><tspan x="-20.61" y="0">Δ</tspan><tspan font-style="italic" x="-14.03" y="0">X</tspan><tspan font-style="italic" font-size="7.12" x="-7.21" y="1.25">l</tspan><tspan x="-5.37 -2.25 1.53 7.84 16.93" y="0"> (nm)</tspan></text>
<text transform="translate(520.1,386.7) rotate(-90)" font-size="10.18"><tspan x="-20.61" y="0">Δ</tspan><tspan font-style="italic" x="-14.03" y="0">X</tspan><tspan font-style="italic" font-size="7.12" x="-7.21" y="1.25">l</tspan><tspan x="-5.37 -2.25 1.53 7.84 16.93" y="0"> (nm)</tspan></text>
</svg>
</body></html>
